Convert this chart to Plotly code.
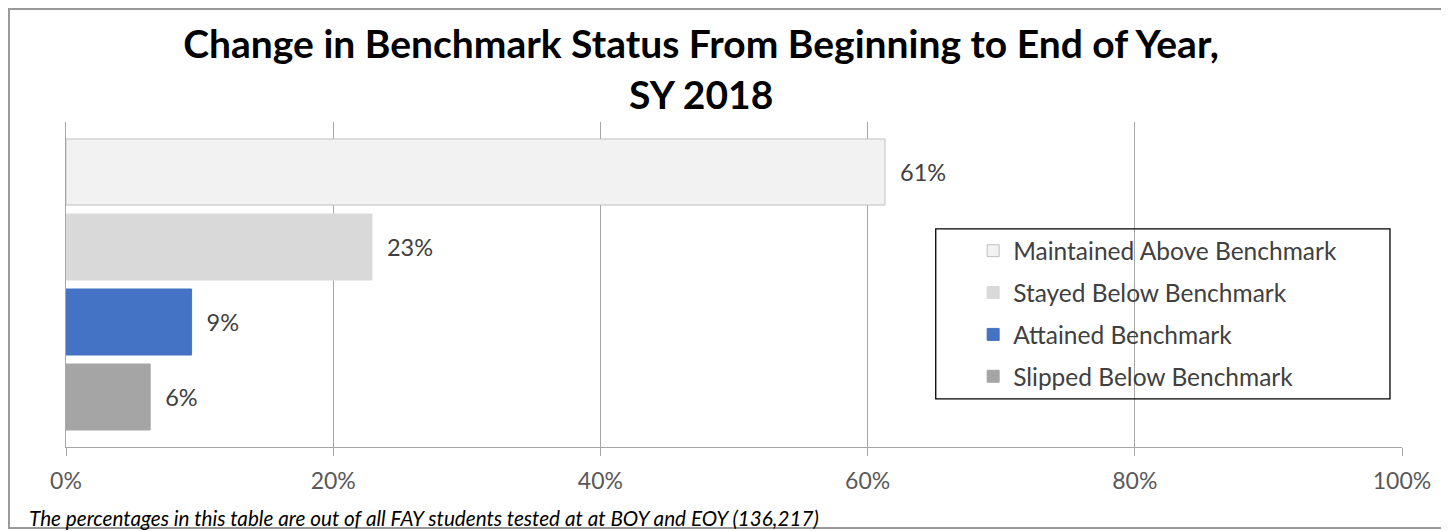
import plotly.graph_objects as go

# Data (percent of FAY students)
categories = ["Maintained Above Benchmark", "Stayed Below Benchmark",
              "Attained Benchmark", "Slipped Below Benchmark"]
values = [61.3, 22.9, 9.4, 6.3]
colors = ["#F2F2F2", "#D9D9D9", "#4472C4", "#A5A5A5"]
x_ticks = [0, 20, 40, 60, 80, 100]
x_tick_labels = ["0%", "20%", "40%", "60%", "80%", "100%"]

title_text = "Change in Benchmark Status From Beginning to End of Year,<br>SY 2018"
footnote = "The percentages in this table are out of all FAY students tested at at BOY and EOY (136,217)"

FONT = "Lato"
GRID = "#A6A6A6"

fig = go.Figure()
# plotly stacks horizontal grouped bars bottom-up, so add them in reverse
for rank, (name, val, col) in reversed(list(enumerate(zip(categories, values, colors)))):
    fig.add_trace(go.Bar(
        y=["SY 2018"], x=[val], name=name, orientation="h",
        marker=dict(color=col,
                    line=dict(color="#BFBFBF" if rank == 0 else col, width=1)),
        texttemplate="  %{x:.0f}%", textposition="outside",
        textfont=dict(family=FONT, size=23.5, color="#404040"),
        cliponaxis=False, legendrank=rank + 1, legendgroup=name,
    ))

# page body adds ~8px offset, so the figure is a bit smaller than the window
fig.update_layout(
    width=1441, height=523,
    margin=dict(l=58, r=47, t=114, b=84),
    paper_bgcolor="white", plot_bgcolor="white",
    barmode="group", bargap=0.077, bargroupgap=0.12,
    font=dict(family=FONT, size=23, color="#404040"),
    title=dict(text=title_text, x=0.481, xref="container", xanchor="center",
               y=0.904, yref="container", yanchor="middle",
               font=dict(family=FONT, size=39, color="black", weight="bold")),
    legend=dict(x=0.679, y=0.673, xanchor="left", yanchor="top",
                bgcolor="rgba(0,0,0,0)", borderwidth=0,
                tracegroupgap=7, font=dict(family=FONT, size=24.5, color="#404040")),
    showlegend=True,
)

fig.update_xaxes(range=[0, 100], tickvals=x_ticks, ticktext=x_tick_labels,
                 showgrid=True, gridcolor=GRID, gridwidth=1,
                 showline=True, linecolor=GRID, linewidth=1,
                 ticks="outside", ticklen=8, tickcolor=GRID, ticklabelstandoff=5,
                 zeroline=False, tickfont=dict(family=FONT, size=23, color="#595959"))
fig.update_yaxes(showticklabels=False, showgrid=False, zeroline=False,
                 showline=True, linecolor=GRID, linewidth=1)

# legend box and outer chart border
fig.add_shape(type="rect", xref="paper", yref="paper",
              x0=0.651, x1=0.991, y0=0.148, y1=0.671,
              line=dict(color="black", width=1.3))
fig.add_shape(type="rect", xref="paper", yref="paper",
              x0=-0.0427, x1=1.0322, y0=-0.249, y1=1.348,
              line=dict(color="#999999", width=2))

fig.add_annotation(text="<i>" + footnote + "</i>", xref="paper", yref="paper",
                   x=-0.029, y=-0.218, xanchor="left", yanchor="middle",
                   showarrow=False, font=dict(family=FONT, size=20.7, color="black"))

fig.write_html("out.html")
